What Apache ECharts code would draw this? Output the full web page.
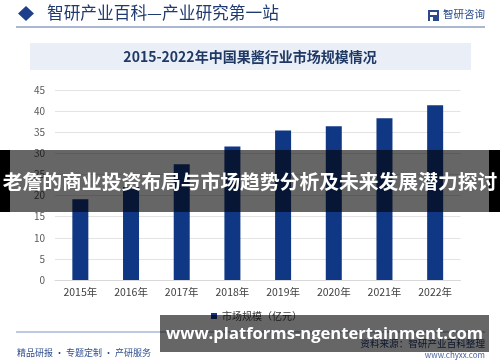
<!DOCTYPE html>
<html>
<head>
<meta charset="utf-8">
<script src="https://cdn.jsdelivr.net/npm/echarts@6/dist/echarts.min.js"></script>
<style>
html,body{margin:0;padding:0;background:#fff;}
#c{width:500px;height:362px;}
</style>
</head>
<body>
<div id="c"></div>
<script>
var years = ['2015年','2016年','2017年','2018年','2019年','2020年','2021年','2022年'];
var marketSize = [19.1, 22.0, 27.4, 31.6, 35.4, 36.4, 38.3, 41.4];
var seriesName = '市场规模（亿元）';
var chartTitle = '2015-2022年中国果酱行业市场规模情况';
var headerText = '智研产业百科—产业研究第一站';
var logoText = '智研咨询';
var footerLeft = '精品研报 · 专题定制 · 产研服务';
var footerSource = '资料来源：智研产业百科整理';
var footerUrl = 'www.chyxx.com';
var bannerText = '老詹的商业投资布局与市场趋势分析及未来发展潜力探讨';
var bannerUrl = 'www.platforms-ngentertainment.com';

var CJK = '"Noto Sans CJK SC", "Noto Sans", sans-serif';
var chart = echarts.init(document.getElementById('c'), null, {renderer:'canvas'});
chart.setOption({
  animation: false,
  textStyle: {fontFamily: CJK},
  grid: {left: 55, right: 39.5, top: 90, bottom: 82},
  legend: {
    data: [seriesName],
    left: 206, top: 306,
    itemWidth: 6, itemHeight: 6, itemGap: 3,
    icon: 'rect',
    textStyle: {fontSize: 10, color: '#404040', fontFamily: CJK}
  },
  xAxis: {
    type: 'category',
    data: years,
    axisTick: {show: false},
    axisLine: {lineStyle: {color: '#d9d9d9'}},
    axisLabel: {fontSize: 10.5, color: '#404040', margin: 7}
  },
  yAxis: {
    type: 'value',
    min: 0, max: 45, interval: 5,
    axisLine: {show: false},
    axisTick: {show: false},
    splitLine: {lineStyle: {color: '#e3e3e3'}},
    axisLabel: {fontSize: 10, color: '#595959', margin: 10}
  },
  series: [{
    name: seriesName,
    type: 'bar',
    data: marketSize,
    barWidth: 16,
    itemStyle: {color: '#0f3783'}
  }],
  graphic: [
    {type:'polygon', shape:{points:[[26,6],[34,13.5],[26,21],[18,13.5]]}, style:{fill:'#1e3f8a'}},
    {type:'text', left:47, top:4, style:{text: headerText, font:'16.7px '+CJK, fill:'#1f3a70'}},
    {type:'rect', shape:{x:428,y:10,width:11,height:11}, style:{fill:'#2a4a8a'}},
    {type:'rect', shape:{x:430,y:12,width:7,height:3}, style:{fill:'#fff'}},
    {type:'rect', shape:{x:430,y:17,width:3,height:4}, style:{fill:'#fff'}},
    {type:'text', left:443, top:9, style:{text: logoText, font:'10.5px '+CJK, fill:'#2a4a8a'}},
    {type:'line', shape:{x1:16,y1:27,x2:485,y2:27}, style:{stroke:'#5470a8', lineWidth:1}},
    {type:'rect', shape:{x:30,y:43,width:441,height:27}, style:{fill:'#e9eef7'}},
    {type:'text', x:250, y:57, style:{text: chartTitle, font:'bold 14px '+CJK, fill:'#1f3864', align:'center', verticalAlign:'middle'}},
    {type:'line', shape:{x1:16,y1:332,x2:485,y2:332}, style:{stroke:'#7f95c4', lineWidth:1}},
    {type:'text', x:17, y:353, style:{text: footerLeft, font:'9px '+CJK, fill:'#2f4f8f', verticalAlign:'middle'}},
    {type:'text', x:485, y:343, style:{text: footerSource, font:'9.6px '+CJK, fill:'#1f3a70', align:'right', verticalAlign:'middle'}},
    {type:'text', x:485, y:355, style:{text: footerUrl, font:'8px '+CJK, fill:'#4a64a0', align:'right', verticalAlign:'middle'}},
    {type:'rect', z:100, shape:{x:0,y:150,width:10,height:62}, style:{fill:'#000'}},
    {type:'rect', z:100, shape:{x:489,y:150,width:11,height:62}, style:{fill:'#000'}},
    {type:'rect', z:100, shape:{x:10,y:150,width:479,height:62}, style:{fill:'rgba(0,0,0,0.6)'}},
    {type:'text', z:101, x:250, y:181, style:{text: bannerText, font:'bold 19.8px '+CJK, fill:'#fff', align:'center', verticalAlign:'middle'}},
    {type:'rect', z:100, shape:{x:160,y:315,width:329,height:37}, style:{fill:'rgba(0,0,0,0.6)'}},
    {type:'text', z:101, x:324.5, y:334, style:{text: bannerUrl, font:'bold 16.6px "Open Sans", "Noto Sans", sans-serif', fill:'#fff', align:'center', verticalAlign:'middle'}}
  ]
});
</script>
</body>
</html>
